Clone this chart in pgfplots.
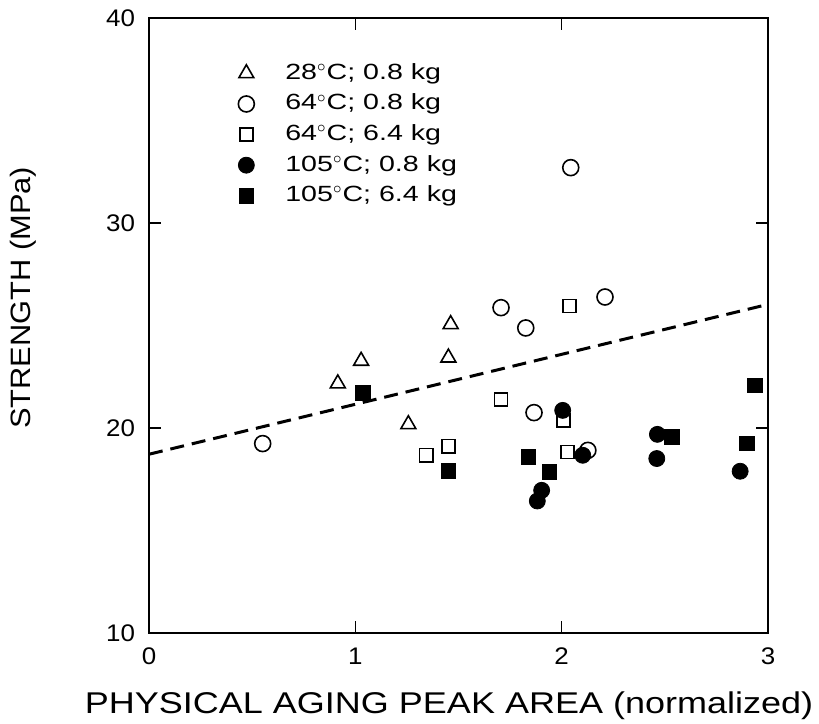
\documentclass[border=0pt]{standalone}
\usepackage{fontspec}
\setmainfont{Liberation Sans}[FakeStretch=1.08]
\newfontfamily\xlabfont{Liberation Sans}[FakeStretch=1.2]
\newfontfamily\ylabfont{Liberation Sans}[FakeStretch=1.1]
\newfontfamily\legfont{Liberation Sans}[FakeStretch=1.3]
\usepackage{pgfplots}
\pgfplotsset{compat=1.18}
\begin{document}
\begin{tikzpicture}
\useasboundingbox (-74.5pt,-45pt) rectangle (335pt,316.5pt);
\begin{axis}[
  at={(0pt,0pt)}, anchor=south west,
  scale only axis, width=309.5pt, height=307.5pt,
  xmin=0, xmax=3, ymin=10, ymax=40,
  xtick={0,1,2,3}, ytick={10,20,30,40},
  tick align=inside, major tick length=6pt,
  axis line style={line width=0.75pt}, every tick/.style={line width=0.75pt, black},
  /pgf/number format/assume math mode=true,
  ticklabel style={font=\fontsize{12}{14}\selectfont},
  xticklabel style={yshift=-4pt},
  yticklabel style={xshift=-3.5pt},
  xlabel={\xlabfont PHYSICAL AGING PEAK AREA (normalized)},
  xlabel style={font=\fontsize{15}{18}\selectfont, at={(axis description cs:0.4847,-0.1301)}, anchor=base},
  ylabel={\ylabfont STRENGTH (MPa)},
  ylabel style={font=\fontsize{14}{17}\selectfont, at={(axis description cs:-0.2036,0.545)}, anchor=center},
  legend style={draw=none, fill=none, at={(axis description cs:0.134,0.935)}, anchor=north west,
    font=\legfont\fontsize{11}{13}\selectfont,
    nodes={inner sep=0.5pt, text height=8pt, text depth=2pt},
    row sep=4.3pt, column sep=15pt},
  legend cell align=left,
]
\addplot[only marks, mark=triangle*, mark size=4.3pt, mark options={fill=white, draw=black, line width=0.8pt}]
  coordinates {(0.915,22.17) (1.028,23.27) (1.257,20.18) (1.462,25.06) (1.451,23.43)};
\addlegendentry{28$^{\circ}$C; 0.8 kg}
\addplot[only marks, mark=*, mark size=4pt, mark options={fill=white, draw=black, line width=0.8pt}]
  coordinates {(0.551,19.24) (2.044,32.70) (1.706,25.87) (1.826,24.88) (2.210,26.39) (1.866,20.75) (2.127,18.91)};
\addlegendentry{64$^{\circ}$C; 0.8 kg}
\addplot[only marks, mark=square*, mark size=3.3pt, mark options={fill=white, draw=black, line width=0.8pt}]
  coordinates {(1.343,18.67) (1.451,19.11) (2.037,25.95) (1.706,21.39) (2.008,20.38) (2.028,18.83)};
\addlegendentry{64$^{\circ}$C; 6.4 kg}
\addplot[only marks, mark=*, mark size=4pt, mark options={fill=black, draw=black}]
  coordinates {(2.005,20.86) (2.102,18.67) (1.903,16.96) (1.882,16.44) (2.464,19.69) (2.461,18.51) (2.865,17.89)};
\addlegendentry{105$^{\circ}$C; 0.8 kg}
\addplot[only marks, mark=square*, mark size=3.6pt, mark options={fill=black, draw=black}]
  coordinates {(1.036,21.71) (1.451,17.90) (1.839,18.59) (1.940,17.85) (2.534,19.56) (2.937,22.08) (2.897,19.24)};
\addlegendentry{105$^{\circ}$C; 6.4 kg}
\addplot[black, line width=1.5pt, dash pattern=on 7pt off 4pt, forget plot]
  coordinates {(0,18.72) (3,26.03)};
\end{axis}
\end{tikzpicture}
\end{document}
